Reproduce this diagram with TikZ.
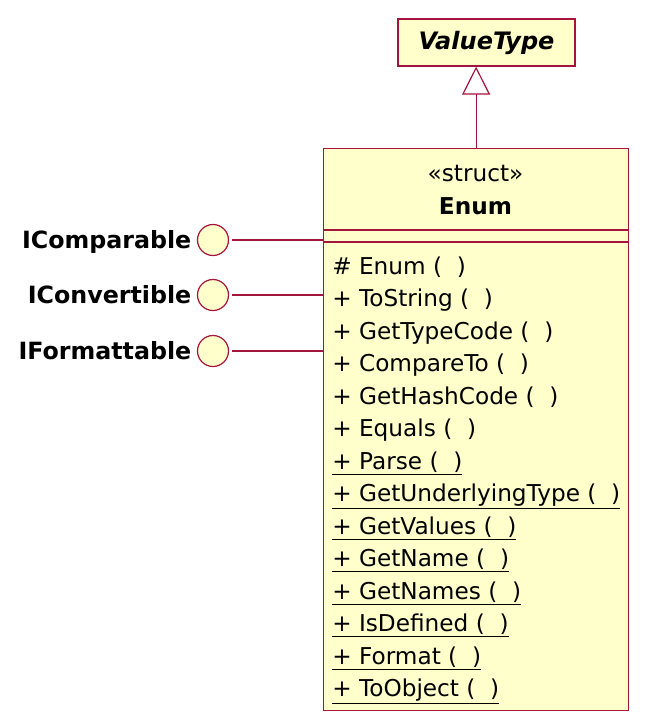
\documentclass[tikz,border=0pt]{standalone}
\usepackage{fontspec}
\setmainfont{DejaVu Sans}
\usetikzlibrary{arrows.meta,positioning}
\definecolor{UmlLine}{RGB}{165,20,60}
\definecolor{UmlFill}{RGB}{255,255,204}

\tikzset{
  umlbox/.style={draw=UmlLine,fill=UmlFill,line width=0.9pt,inner sep=0pt},
  lolly/.style={circle,draw=UmlLine,fill=UmlFill,line width=0.9pt,minimum size=31*0.75pt,inner sep=0pt},
  iface/.style={anchor=east,font=\fontsize{17.8}{20}\selectfont\bfseries,inner sep=0pt,text height=13pt,text depth=0pt},
  member/.style={anchor=west,font=\fontsize{17.4}{20}\selectfont,inner sep=0pt,text height=13pt,text depth=2pt},
}

\begin{document}
\begin{tikzpicture}[x=0.75pt,y=-0.75pt,>=Latex]
  \useasboundingbox (0,0) rectangle (662,725);
  % supertype
  \node[umlbox,minimum width=177*0.75pt,minimum height=47*0.75pt] (vt) at (486.5,42.5)
    {\fontsize{18}{20}\selectfont\bfseries\itshape ValueType};
  % the struct
  \node[umlbox,anchor=north west,minimum width=305*0.75pt,minimum height=562*0.75pt] (enum) at (323,148) {};
  \node[font=\fontsize{17.4}{20}\selectfont] (stereo) at (475.5,174) {«struct»};
  \node[font=\fontsize{17.4}{20}\selectfont\bfseries] (ename) at (475.5,206) {Enum};
  \draw[UmlLine,line width=0.9pt] (enum.west |- 0,230) coordinate (s1) -- (enum.east |- s1);
  \draw[UmlLine,line width=0.9pt] (enum.west |- 0,242) coordinate (s2) -- (enum.east |- s2);
  % generalization
  \draw[UmlLine,line width=0.9pt,-{Triangle[open,length=28*0.75pt,width=28*0.75pt]}]
    (enum.north) -- (enum.north |- vt.south);
  % members
  \foreach \txt [count=\i from 0] in {\# Enum (\ \ ),+ ToString (\ \ ),+ GetTypeCode (\ \ ),
      + CompareTo (\ \ ),+ GetHashCode (\ \ ),+ Equals (\ \ )}
    \node[member] (m\i) at (332,267+32.5*\i) {\txt};
  \foreach \txt [count=\i from 6] in {+ Parse (\ \ ),+ GetUnderlyingType (\ \ ),+ GetValues (\ \ ),
      + GetName (\ \ ),+ GetNames (\ \ ),+ IsDefined (\ \ ),+ Format (\ \ ),+ ToObject (\ \ )}
    \node[member] (m\i) at (332,267+32.5*\i) {\underline{\txt}};
  % interfaces
  \foreach \nm/\yy [count=\i] in {IComparable/240,IConvertible/295,IFormattable/351}{
    \node[lolly] (if\i) at (213,\yy) {};
    \node[iface,left=4pt of if\i] (lb\i) {\nm};
    \draw[UmlLine,line width=0.9pt] (if\i.east) ++(3,0) -- (if\i -| enum.west);
  }
\end{tikzpicture}
\end{document}
